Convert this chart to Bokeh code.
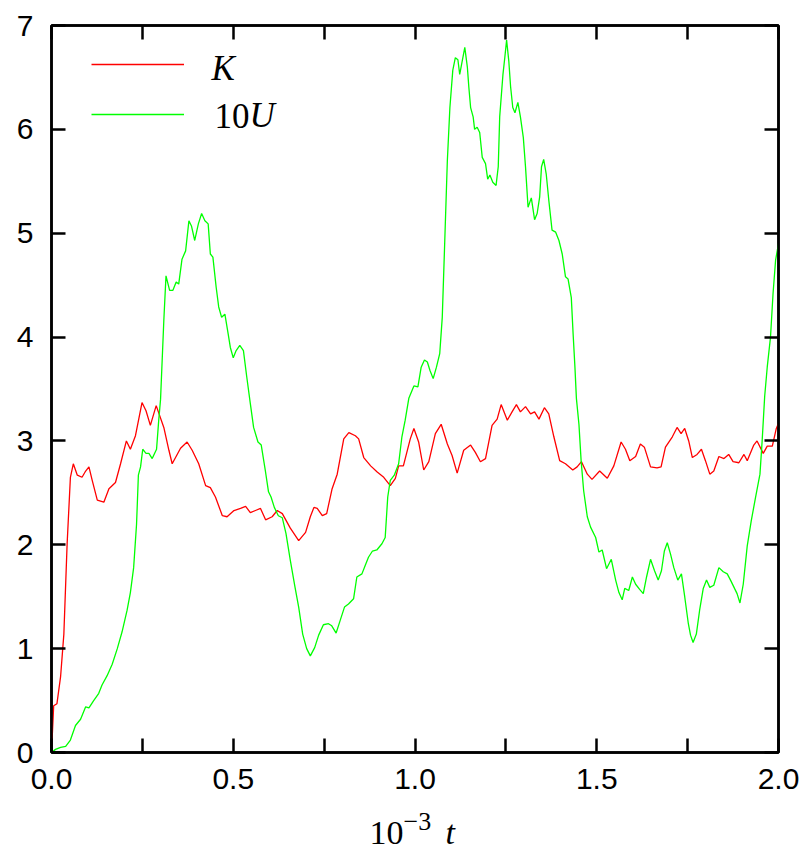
from bokeh.plotting import figure
from bokeh.layouts import column
from bokeh.models import (Range1d, LinearAxis, FixedTicker, CustomJSTickFormatter,
                          Label, Legend, LegendItem)
from bokeh.embed import file_html
from bokeh.resources import INLINE

# ---------------- data ----------------
K_t = [0.000, 0.006, 0.015, 0.025, 0.034, 0.043, 0.052, 0.060, 0.071, 0.084,
       0.094, 0.103, 0.112, 0.126, 0.144, 0.158, 0.176, 0.190, 0.206, 0.217,
       0.231, 0.249, 0.260, 0.272, 0.288, 0.309, 0.323, 0.332, 0.355, 0.373,
       0.387, 0.405, 0.424, 0.437, 0.451, 0.470, 0.483, 0.502, 0.520, 0.534,
       0.547, 0.561, 0.575, 0.589, 0.607, 0.621, 0.635, 0.657, 0.680, 0.699,
       0.712, 0.722, 0.731, 0.745, 0.757, 0.772, 0.786, 0.804, 0.818, 0.836,
       0.845, 0.859, 0.878, 0.896, 0.914, 0.932, 0.946, 0.955, 0.968, 0.987,
       0.997, 1.010, 1.024, 1.038, 1.056, 1.072, 1.089, 1.102, 1.116, 1.134,
       1.153, 1.166, 1.180, 1.194, 1.212, 1.226, 1.237, 1.254, 1.267, 1.279,
       1.290, 1.304, 1.318, 1.329, 1.341, 1.356, 1.368, 1.382, 1.398, 1.414,
       1.434, 1.446, 1.458, 1.474, 1.487, 1.508, 1.529, 1.547, 1.567, 1.579,
       1.591, 1.607, 1.620, 1.631, 1.648, 1.666, 1.677, 1.689, 1.708, 1.721,
       1.732, 1.742, 1.753, 1.763, 1.776, 1.788, 1.799, 1.811, 1.822, 1.836,
       1.850, 1.863, 1.875, 1.891, 1.905, 1.914, 1.932, 1.941, 1.958, 1.969,
       1.983, 1.994, 2.000]
K_v = [0.00, 0.45, 0.47, 0.73, 1.14, 2.01, 2.65, 2.78, 2.67, 2.65,
       2.71, 2.75, 2.62, 2.43, 2.41, 2.54, 2.60, 2.78, 3.00, 2.92,
       3.05, 3.37, 3.29, 3.15, 3.34, 3.13, 2.91, 2.78, 2.93, 2.99,
       2.91, 2.78, 2.57, 2.55, 2.46, 2.28, 2.27, 2.33, 2.35, 2.37,
       2.31, 2.33, 2.35, 2.24, 2.27, 2.33, 2.30, 2.16, 2.04, 2.12,
       2.27, 2.36, 2.35, 2.28, 2.30, 2.54, 2.68, 3.02, 3.08, 3.05,
       3.02, 2.84, 2.76, 2.70, 2.65, 2.57, 2.64, 2.76, 2.76, 3.02,
       3.12, 2.99, 2.72, 2.80, 3.07, 3.16, 2.97, 2.86, 2.69, 2.91,
       2.96, 2.89, 2.80, 2.83, 3.15, 3.21, 3.35, 3.20, 3.28, 3.35,
       3.28, 3.33, 3.26, 3.28, 3.21, 3.32, 3.26, 3.04, 2.81, 2.78,
       2.72, 2.75, 2.80, 2.68, 2.63, 2.71, 2.64, 2.76, 2.99, 2.92,
       2.81, 2.85, 2.97, 2.94, 2.75, 2.74, 2.75, 2.94, 3.04, 3.13,
       3.07, 3.12, 3.00, 2.84, 2.87, 2.92, 2.81, 2.68, 2.71, 2.85,
       2.83, 2.87, 2.80, 2.79, 2.87, 2.81, 2.96, 3.00, 2.88, 2.95,
       2.95, 3.12, 3.17]

U_t = [0.000, 0.011, 0.025, 0.039, 0.052, 0.066, 0.080, 0.094, 0.103, 0.116,
       0.130, 0.139, 0.153, 0.167, 0.181, 0.194, 0.208, 0.217, 0.226, 0.234,
       0.239, 0.245, 0.251, 0.260, 0.268, 0.277, 0.289, 0.295, 0.300, 0.309,
       0.315, 0.325, 0.334, 0.343, 0.350, 0.359, 0.369, 0.378, 0.385, 0.394,
       0.404, 0.413, 0.422, 0.431, 0.437, 0.444, 0.453, 0.460, 0.468, 0.477,
       0.486, 0.492, 0.500, 0.508, 0.518, 0.528, 0.537, 0.547, 0.556, 0.568,
       0.577, 0.588, 0.597, 0.604, 0.613, 0.624, 0.635, 0.645, 0.657, 0.670,
       0.680, 0.691, 0.702, 0.712, 0.724, 0.735, 0.748, 0.762, 0.771, 0.783,
       0.794, 0.806, 0.817, 0.831, 0.840, 0.854, 0.863, 0.872, 0.883, 0.895,
       0.909, 0.918, 0.925, 0.932, 0.943, 0.955, 0.964, 0.973, 0.983, 0.997,
       1.008, 1.017, 1.026, 1.034, 1.041, 1.050, 1.059, 1.068, 1.075, 1.081,
       1.089, 1.096, 1.104, 1.111, 1.118, 1.123, 1.130, 1.137, 1.144, 1.148,
       1.153, 1.160, 1.164, 1.171, 1.178, 1.185, 1.194, 1.200, 1.206, 1.214,
       1.223, 1.229, 1.233, 1.242, 1.247, 1.252, 1.258, 1.263, 1.269, 1.275,
       1.283, 1.290, 1.298, 1.304, 1.311, 1.320, 1.329, 1.336, 1.343, 1.348,
       1.354, 1.361, 1.368, 1.377, 1.387, 1.396, 1.405, 1.414, 1.421, 1.430,
       1.435, 1.440, 1.444, 1.451, 1.457, 1.464, 1.474, 1.483, 1.497, 1.506,
       1.515, 1.527, 1.540, 1.552, 1.561, 1.570, 1.577, 1.588, 1.598, 1.607,
       1.618, 1.628, 1.637, 1.648, 1.659, 1.669, 1.678, 1.686, 1.694, 1.703,
       1.712, 1.723, 1.733, 1.742, 1.752, 1.758, 1.765, 1.774, 1.783, 1.793,
       1.802, 1.811, 1.822, 1.836, 1.848, 1.859, 1.868, 1.879, 1.886, 1.894,
       1.903, 1.914, 1.925, 1.937, 1.949, 1.955, 1.962, 1.969, 1.978, 1.985,
       1.992, 2.000]
U_v = [0.00, 0.03, 0.05, 0.06, 0.12, 0.26, 0.32, 0.44, 0.43, 0.50,
       0.57, 0.65, 0.74, 0.85, 1.00, 1.16, 1.37, 1.54, 1.78, 2.20,
       2.67, 2.75, 2.92, 2.88, 2.88, 2.83, 2.92, 3.20, 3.40, 4.16,
       4.59, 4.45, 4.45, 4.53, 4.51, 4.75, 4.83, 5.12, 5.07, 4.93,
       5.09, 5.19, 5.12, 5.09, 4.80, 4.77, 4.48, 4.29, 4.19, 4.22,
       4.03, 3.90, 3.80, 3.87, 3.92, 3.87, 3.62, 3.36, 3.13, 2.99,
       2.96, 2.72, 2.51, 2.46, 2.36, 2.28, 2.26, 2.11, 1.85, 1.59,
       1.40, 1.14, 1.00, 0.93, 1.01, 1.13, 1.23, 1.24, 1.22, 1.15,
       1.27, 1.40, 1.43, 1.48, 1.69, 1.72, 1.80, 1.88, 1.94, 1.95,
       2.01, 2.07, 2.46, 2.62, 2.67, 2.78, 3.04, 3.20, 3.41, 3.53,
       3.52, 3.71, 3.78, 3.76, 3.68, 3.60, 3.71, 3.84, 4.19, 4.83,
       5.70, 6.21, 6.57, 6.69, 6.67, 6.53, 6.66, 6.79, 6.60, 6.41,
       6.21, 6.12, 6.00, 6.02, 5.97, 5.73, 5.67, 5.52, 5.56, 5.49,
       5.46, 5.64, 6.12, 6.53, 6.69, 6.86, 6.66, 6.41, 6.21, 6.16,
       6.26, 6.12, 5.92, 5.64, 5.25, 5.34, 5.13, 5.19, 5.35, 5.64,
       5.71, 5.57, 5.32, 5.03, 5.01, 4.93, 4.80, 4.58, 4.56, 4.38,
       4.03, 3.71, 3.41, 3.16, 2.81, 2.52, 2.27, 2.17, 2.07, 1.93,
       1.95, 1.77, 1.86, 1.66, 1.54, 1.47, 1.58, 1.56, 1.69, 1.62,
       1.57, 1.53, 1.69, 1.86, 1.75, 1.66, 1.75, 1.94, 2.02, 1.91,
       1.78, 1.66, 1.72, 1.50, 1.24, 1.13, 1.06, 1.14, 1.37, 1.58,
       1.66, 1.59, 1.61, 1.78, 1.74, 1.72, 1.66, 1.58, 1.53, 1.44,
       1.62, 1.99, 2.23, 2.46, 2.68, 3.00, 3.43, 3.71, 4.00, 4.42,
       4.74, 4.90]

x_ticks = [0.0, 0.25, 0.5, 0.75, 1.0, 1.25, 1.5, 1.75, 2.0]
y_ticks = [0, 1, 2, 3, 4, 5, 6, 7]
series_labels = ["K", "10U"]
x_title_parts = ["10", "\u22123", "t"]

# ---------------- layout ----------------
W, H = 802, 852
PH = 804                      # height of the main plot canvas
FL, FR, FT, FB = 51, 778, 25, 752
X0, X1, Y0, Y1 = 0.0, 2.0, 0.0, 7.0


def dx(px):
    return X0 + (px - FL) / (FR - FL) * (X1 - X0)


def dy(py):
    return Y0 + (FB - py) / (FB - FT) * (Y1 - Y0)


p = figure(width=W, height=PH, x_range=Range1d(X0, X1), y_range=Range1d(Y0, Y1),
           output_backend="svg", toolbar_location=None,
           x_axis_location=None, y_axis_location=None,
           min_border_left=FL, min_border_right=W - FR,
           min_border_top=FT, min_border_bottom=PH - FB)
p.grid.visible = False
p.outline_line_color = "black"
p.outline_line_width = 2.5
p.background_fill_color = "white"
p.border_fill_color = "white"

label_fmt = CustomJSTickFormatter(
    code="return (Math.abs(tick*2 - Math.round(tick*2)) < 1e-6) ? tick.toFixed(1) : '';")
y_fmt = CustomJSTickFormatter(code="return tick.toFixed(0);")
blank_fmt = CustomJSTickFormatter(code="return '';")


def style_axis(ax):
    ax.axis_line_color = "black"
    ax.axis_line_width = 2.5
    ax.major_tick_line_color = "black"
    ax.major_tick_line_width = 2.5
    ax.major_tick_in = 14
    ax.major_tick_out = 0
    ax.minor_tick_line_color = None
    ax.major_label_text_font = "Liberation Sans"
    ax.major_label_text_font_size = "30px"
    ax.major_label_text_color = "black"


xb = LinearAxis(ticker=FixedTicker(ticks=x_ticks), formatter=label_fmt)
style_axis(xb)
xb.major_label_standoff = 16
p.add_layout(xb, "below")

yl = LinearAxis(ticker=FixedTicker(ticks=y_ticks), formatter=y_fmt)
style_axis(yl)
yl.major_label_standoff = 18
p.add_layout(yl, "left")

xt = LinearAxis(ticker=FixedTicker(ticks=x_ticks), formatter=blank_fmt)
style_axis(xt)
xt.major_label_standoff = 0
p.add_layout(xt, "above")

yr = LinearAxis(ticker=FixedTicker(ticks=y_ticks), formatter=blank_fmt)
style_axis(yr)
yr.major_label_standoff = 0
p.add_layout(yr, "right")

rk = p.line(K_t, K_v, line_color="#ff0000", line_width=1.3)
ru = p.line(U_t, U_v, line_color="#00ff00", line_width=1.3)

# legend line samples (text drawn separately to mix italic/upright)
leg = Legend(items=[LegendItem(label=" ", renderers=[rk]),
                    LegendItem(label=" ", renderers=[ru])],
             location=(91 - FL, (FB - FT) - (54 - FT) - 70),
             glyph_width=93, glyph_height=20, spacing=30, padding=0, margin=0,
             border_line_alpha=0, background_fill_alpha=0,
             label_text_font_size="10px", label_standoff=0, label_width=0)
p.add_layout(leg)

serif = "Liberation Serif"
# (y values below are the rendered anchor lines, about 0.34 em above the baseline)
p.add_layout(Label(x=dx(211), y=dy(68), text=series_labels[0], text_font=serif,
                   text_font_style="italic", text_font_size="35px",
                   text_baseline="alphabetic", text_align="left", text_color="black"))
p.add_layout(Label(x=dx(214), y=dy(115), text=series_labels[1][:2], text_font=serif,
                   text_font_style="normal", text_font_size="35px",
                   text_baseline="alphabetic", text_align="left", text_color="black"))
p.add_layout(Label(x=dx(249), y=dy(115), text=series_labels[1][2:], text_font=serif,
                   text_font_style="italic", text_font_size="35px",
                   text_baseline="alphabetic", text_align="left", text_color="black"))

# ---------------- strip below for the x-axis title: 10^{-3} t ----------------
QH = H - PH
q = figure(width=W, height=QH, x_range=Range1d(X0, X1), y_range=Range1d(QH, 0),
           output_backend="svg", toolbar_location=None,
           x_axis_location=None, y_axis_location=None,
           min_border_left=FL, min_border_right=W - FR,
           min_border_top=0, min_border_bottom=0)
q.grid.visible = False
q.outline_line_color = None
q.background_fill_color = "white"
q.border_fill_color = "white"


def qy(py):
    return py - PH


q.add_layout(Label(x=dx(369), y=qy(832), text=x_title_parts[0], text_font=serif,
                   text_font_size="34px", text_baseline="alphabetic",
                   text_align="left", text_color="black"))
q.add_layout(Label(x=dx(403), y=qy(821), text=x_title_parts[1], text_font=serif,
                   text_font_size="26px", text_baseline="alphabetic",
                   text_align="left", text_color="black"))
q.add_layout(Label(x=dx(445), y=qy(832), text=x_title_parts[2], text_font=serif,
                   text_font_style="italic", text_font_size="34px",
                   text_baseline="alphabetic", text_align="left", text_color="black"))

layout = column(p, q, spacing=0)
open("out.html", "w").write(file_html(layout, INLINE))
